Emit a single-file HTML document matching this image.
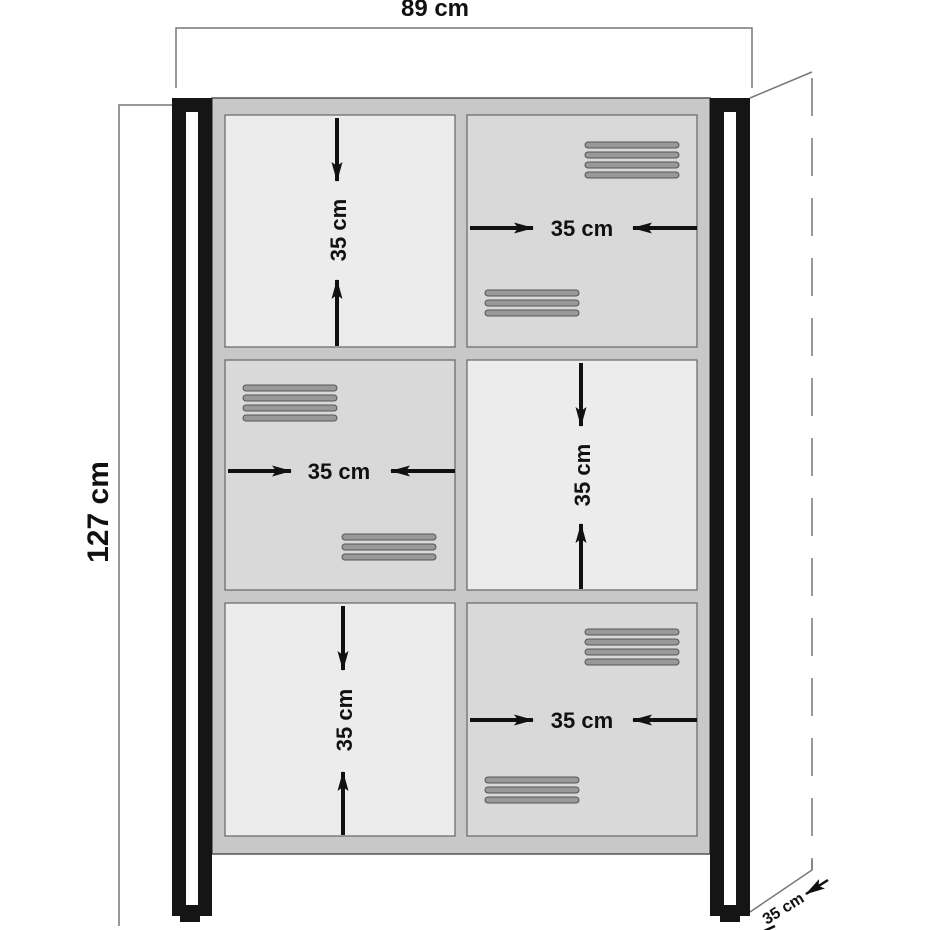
<!DOCTYPE html>
<html><head><meta charset="utf-8"><style>html,body{margin:0;padding:0;background:#fff}svg{display:block}</style></head>
<body>
<svg width="930" height="930" viewBox="0 0 930 930" xmlns="http://www.w3.org/2000/svg" font-family="Liberation Sans, sans-serif" font-weight="bold">
<defs>
<marker id="ah" viewBox="0 0 20 12" refX="19" refY="6" markerWidth="20" markerHeight="12" orient="auto" markerUnits="userSpaceOnUse"><path d="M0,0.5 L20,6 L0,11.5 L4,6 z" fill="#111"/></marker>
<g id="l4"><rect x="0" y="0" width="94" height="6" rx="3" fill="#999" stroke="#555" stroke-width="1"/><rect x="0" y="10" width="94" height="6" rx="3" fill="#999" stroke="#555" stroke-width="1"/><rect x="0" y="20" width="94" height="6" rx="3" fill="#999" stroke="#555" stroke-width="1"/><rect x="0" y="30" width="94" height="6" rx="3" fill="#999" stroke="#555" stroke-width="1"/></g>
<g id="l3"><rect x="0" y="0" width="94" height="6" rx="3" fill="#999" stroke="#555" stroke-width="1"/><rect x="0" y="10" width="94" height="6" rx="3" fill="#999" stroke="#555" stroke-width="1"/><rect x="0" y="20" width="94" height="6" rx="3" fill="#999" stroke="#555" stroke-width="1"/></g>
</defs>
<g stroke="#777" stroke-width="1.5" fill="none">
<polyline points="176,88 176,28 752,28 752,88"/>
<polyline points="172,105 119,105 119,926"/>
<polyline points="750,98 812,72"/>
<line x1="812" y1="78" x2="812" y2="870" stroke-dasharray="38,22"/>
<polyline points="812,860 812,870 750,912"/>
</g>
<text x="435" y="16" font-size="24" text-anchor="middle" fill="#111">89 cm</text>
<text transform="translate(108,512) rotate(-90)" font-size="30" text-anchor="middle" fill="#111">127 cm</text>
<text transform="translate(786,913) rotate(-32)" font-size="16" text-anchor="middle" fill="#111">35 cm</text>
<line x1="828" y1="880" x2="806" y2="894" stroke="#111" stroke-width="2.5" marker-end="url(#ah)"/>
<line x1="775" y1="926" x2="762" y2="932" stroke="#111" stroke-width="2.5"/>
<rect x="212" y="98" width="498" height="756" fill="#c8c8c8" stroke="#555" stroke-width="1.5"/>
<g stroke="#666" stroke-width="1.2">
<rect x="225" y="115" width="230" height="232" fill="#ececec"/>
<rect x="467" y="115" width="230" height="232" fill="#d9d9d9"/>
<rect x="225" y="360" width="230" height="230" fill="#d9d9d9"/>
<rect x="467" y="360" width="230" height="230" fill="#ececec"/>
<rect x="225" y="603" width="230" height="233" fill="#ececec"/>
<rect x="467" y="603" width="230" height="233" fill="#d9d9d9"/>
</g>
<g fill="#151515">
<rect x="172" y="98" width="40" height="818"/>
<rect x="710" y="98" width="40" height="818"/>
<rect x="180" y="914" width="20" height="8"/>
<rect x="720" y="914" width="20" height="8"/>
</g>
<rect x="186" y="112" width="12" height="793" fill="#fff"/>
<rect x="724" y="112" width="12" height="793" fill="#fff"/>
<use href="#l4" x="585" y="142"/><use href="#l3" x="485" y="290"/>
<use href="#l4" x="243" y="385"/><use href="#l3" x="342" y="534"/>
<use href="#l4" x="585" y="629"/><use href="#l3" x="485" y="777"/>
<g stroke="#111" stroke-width="4">
<line x1="470" y1="228" x2="533" y2="228" marker-end="url(#ah)"/>
<line x1="697" y1="228" x2="633" y2="228" marker-end="url(#ah)"/>
<line x1="228" y1="471" x2="291" y2="471" marker-end="url(#ah)"/>
<line x1="455" y1="471" x2="391" y2="471" marker-end="url(#ah)"/>
<line x1="470" y1="720" x2="533" y2="720" marker-end="url(#ah)"/>
<line x1="697" y1="720" x2="633" y2="720" marker-end="url(#ah)"/>
<line x1="337" y1="118" x2="337" y2="181" marker-end="url(#ah)"/>
<line x1="337" y1="346" x2="337" y2="280" marker-end="url(#ah)"/>
<line x1="581" y1="363" x2="581" y2="426" marker-end="url(#ah)"/>
<line x1="581" y1="589" x2="581" y2="524" marker-end="url(#ah)"/>
<line x1="343" y1="606" x2="343" y2="670" marker-end="url(#ah)"/>
<line x1="343" y1="835" x2="343" y2="772" marker-end="url(#ah)"/>
</g>
<g font-size="22" fill="#111" text-anchor="middle">
<text x="582" y="236">35 cm</text>
<text x="339" y="479">35 cm</text>
<text x="582" y="728">35 cm</text>
<text transform="translate(346,230) rotate(-90)">35 cm</text>
<text transform="translate(590,475) rotate(-90)">35 cm</text>
<text transform="translate(352,720) rotate(-90)">35 cm</text>
</g>
</svg>
</body></html>
